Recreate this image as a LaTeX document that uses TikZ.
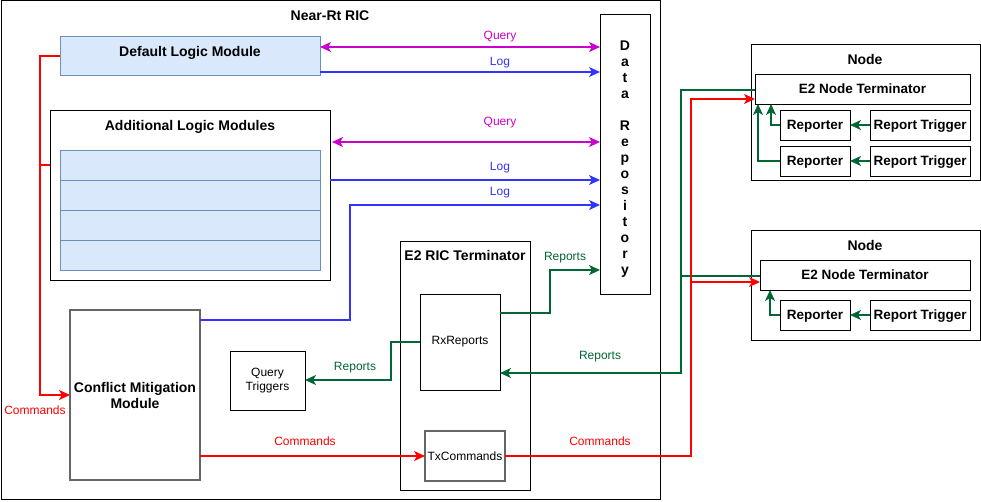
\documentclass[tikz,border=0pt]{standalone}
\usepackage{fontspec}
\setmainfont{Liberation Sans}
\usetikzlibrary{arrows.meta}
\definecolor{qmag}{HTML}{CC00CC}
\definecolor{lblue}{HTML}{3333FF}
\definecolor{rgreen}{HTML}{006633}
\definecolor{cred}{HTML}{FF0000}
\definecolor{modfill}{HTML}{DAE8FC}
\definecolor{modline}{HTML}{6C8EBF}
\definecolor{grayline}{HTML}{666666}
\begin{document}
\begin{tikzpicture}[x=1pt,y=-1pt,
  >={Stealth[length=11pt,width=10pt,inset=3pt]},
  box/.style={draw=black, line width=1pt, inner sep=0pt, outer sep=0pt},
  gbox/.style={draw=grayline, line width=1.3pt, inner sep=0pt, outer sep=0pt},
  mod/.style={draw=modline, fill=modfill, line width=1pt, inner sep=0pt, outer sep=0pt},
  bt/.style={font=\fontsize{14}{16}\selectfont\bfseries, inner sep=0pt, align=center},
  bt1/.style={font=\fontsize{14}{16}\selectfont\bfseries, inner sep=0pt, text height=10pt, text depth=0pt},
  nt/.style={font=\fontsize{13.5}{16}\selectfont\bfseries, inner sep=0pt, text height=9.8pt, text depth=0pt},
  rt/.style={font=\fontsize{12}{14}\selectfont, inner sep=0pt, align=center},
  lbl/.style={font=\fontsize{12}{14}\selectfont, inner sep=0pt, text height=8.6pt, text depth=0pt},
  wire/.style={line width=1.5pt},
  qw/.style={wire, draw=qmag},
  lw/.style={wire, draw=lblue},
  gw/.style={wire, draw=rgreen},
  cw/.style={wire, draw=cred}]
\fill[white] (0,0) rectangle (981,501);
\useasboundingbox (0,0) rectangle (981,501);

% Near-Rt RIC
\node[box, minimum width=659pt, minimum height=499pt] (ric) at (330.5,250) {};
\node[bt1] (rictitle) at (330,15.5) {Near-Rt RIC};

% Data repository
\node[box, minimum width=50pt, minimum height=280pt] (repo) at (625,154) {};
\node[bt] (repotext) at (625,159)
  {D\\a\\t\\a\\\mbox{}\\R\\e\\p\\o\\s\\i\\t\\o\\r\\y};

% Default logic module
\node[mod, minimum width=260pt, minimum height=39pt] (dlm) at (190,55.5) {};
\node[bt1] (dlmtitle) at (190,51.5) {Default Logic Module};

% Additional logic modules
\node[box, minimum width=280pt, minimum height=170pt] (alm) at (190,195) {};
\node[bt1] (almtitle) at (190,125.5) {Additional Logic Modules};
\node[mod, minimum width=260pt, minimum height=30pt] (row1) at (190,165) {};
\node[mod, minimum width=260pt, minimum height=30pt] (row2) at (190,195) {};
\node[mod, minimum width=260pt, minimum height=30pt] (row3) at (190,225) {};
\node[mod, minimum width=260pt, minimum height=30pt] (row4) at (190,255) {};

% E2 RIC terminator
\node[box, minimum width=130pt, minimum height=249pt] (e2ric) at (465,365.5) {};
\node[bt1] (e2rictitle) at (465,255.5) {E2 RIC Terminator};
\node[box, minimum width=80pt, minimum height=96pt, font=\fontsize{12}{14}\selectfont] (rx) at (460,342) {RxReports};
\node[gbox, minimum width=80pt, minimum height=50pt, font=\fontsize{12}{14}\selectfont] (tx) at (465,456) {TxCommands};

% Query triggers and CMM
\node[box, minimum width=75pt, minimum height=59pt, rt] (qt) at (267.5,380.5) {Query\\Triggers};
\node[gbox, minimum width=130pt, minimum height=170pt, bt] (cmm) at (135,395) {Conflict Mitigation\\Module};

% Node 1
\node[box, minimum width=229.5pt, minimum height=136pt] (node1) at (865.75,112) {};
\node[bt1] (node1title) at (865,59) {Node};
\node[box, minimum width=215pt, minimum height=30pt, nt] (t1) at (862.5,89) {E2 Node Terminator};
\node[box, minimum width=70pt, minimum height=30pt, nt] (rep1) at (815,125) {Reporter};
\node[box, minimum width=100pt, minimum height=30pt, nt] (rt1) at (920,125) {Report Trigger};
\node[box, minimum width=70pt, minimum height=30pt, nt] (rep2) at (815,161) {Reporter};
\node[box, minimum width=100pt, minimum height=30pt, nt] (rt2) at (920,161) {Report Trigger};

% Node 2
\node[box, minimum width=229.5pt, minimum height=110pt] (node2) at (865.75,285) {};
\node[bt1] (node2title) at (865,245) {Node};
\node[box, minimum width=210pt, minimum height=30pt, nt] (t2) at (865,275) {E2 Node Terminator};
\node[box, minimum width=70pt, minimum height=30pt, nt] (rep3) at (815,315) {Reporter};
\node[box, minimum width=100pt, minimum height=30pt, nt] (rt3) at (920,315) {Report Trigger};

% Query / Log connectors
\draw[qw, <->] (dlm.east |- 0,47) -- (repo.west |- 0,47);
\draw[lw, ->] (dlm.east |- 0,72) -- (repo.west |- 0,72);
\draw[qw, <->] ([xshift=2pt]alm.east |- 0,142) -- (repo.west |- 0,142);
\draw[lw, ->] (alm.east |- 0,180) -- (repo.west |- 0,180);
\draw[lw, ->] (cmm.east |- 0,320) -| (350,205) -- (repo.west |- 0,205);
\node[lbl, text=qmag] (lq1) at (500,35) {Query};
\node[lbl, text=lblue] (ll1) at (500,61) {Log};
\node[lbl, text=qmag] (lq2) at (500,121) {Query};
\node[lbl, text=lblue] (ll2) at (500,166) {Log};
\node[lbl, text=lblue] (ll3) at (500,191) {Log};

% Reports connectors
\draw[gw, ->] (rx.east |- 0,313) -| (550,270) -- (repo.west |- 0,270);
\draw[gw, ->] (rx.west) -| (391,380) -- (qt.east |- 0,380);
\draw[gw, ->] (t1.west |- 0,90) -| (681,373) -- (rx.east |- 0,373);
\draw[gw] (t2.west |- 0,276) -- (681,276);
\node[lbl, text=rgreen] (lr1) at (565,256) {Reports};
\node[lbl, text=rgreen] (lr2) at (355,366) {Reports};
\node[lbl, text=rgreen] (lr3) at (600,355) {Reports};

% Commands connectors
\draw[cw, ->] (dlm.west |- 0,56) -| (40,395) -- (cmm.west |- 0,395);
\draw[cw] (alm.west |- 0,165) -- (40,165);
\draw[cw, ->] (cmm.east |- 0,456) -- (tx.west);
\draw[cw, ->] (tx.east) -| (691,99) -- (t1.west |- 0,99);
\draw[cw, ->] (691,282) -- (t2.west |- 0,282);
\node[lbl, text=cred] (lc1) at (35,410) {Commands};
\node[lbl, text=cred] (lc2) at (305,441) {Commands};
\node[lbl, text=cred] (lc3) at (600,441) {Commands};

% Node internal connectors
\draw[gw, ->] (rt1.west) -- (rep1.east);
\draw[gw, ->] (rt2.west) -- (rep2.east);
\draw[gw, ->] (rt3.west) -- (rep3.east);
\draw[gw, ->] (rep1.west) -| ([xshift=16pt]t1.south west);
\draw[gw, ->] (rep2.west) -| ([xshift=3pt]t1.south west);
\draw[gw, ->] (rep3.west) -| ([xshift=10pt]t2.south west);
\end{tikzpicture}
\end{document}
